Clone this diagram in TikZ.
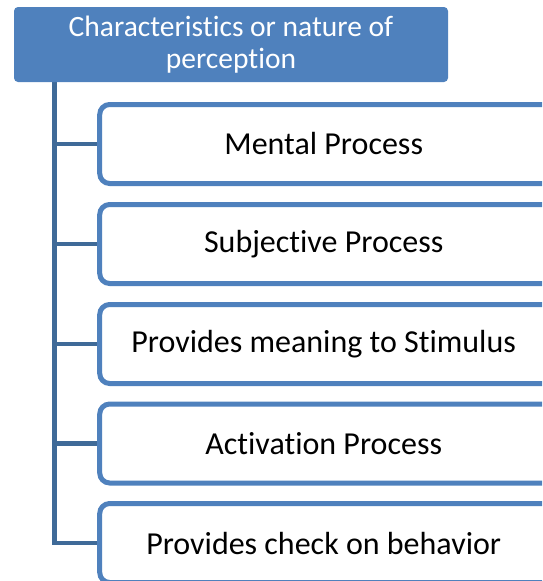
\documentclass[tikz,border=0pt]{standalone}
\usepackage{fontspec}
\setmainfont[Ligatures=NoCommon]{Carlito}
\definecolor{hdr}{HTML}{4F81BD}
\definecolor{bord}{HTML}{4F81BD}
\definecolor{conn}{HTML}{3F6A98}
\pgfdeclarelayer{bg}
\pgfsetlayers{bg,main}
\begin{document}
\begin{tikzpicture}[x=1pt,y=-1pt,
  hdrbox/.style={rectangle,rounded corners=4pt,fill=hdr,text=white,
    minimum width=434pt,minimum height=75pt,align=center,inner sep=0pt,
    font=\fontsize{29.5}{32}\selectfont},
  itembox/.style={rectangle,rounded corners=10pt,draw=bord,line width=5pt,fill=white,
    minimum width=460pt,minimum height=79pt,inner sep=0pt,
    font=\fontsize{32}{36}\selectfont},
  connline/.style={draw=conn,line width=4.5pt}]
\useasboundingbox (0,0) rectangle (542,581);
\clip (0,0) rectangle (542,581);
\node[hdrbox] (top) at (231,44.5) {Characteristics or nature of\\perception};
\coordinate (s0) at (54.5,82);
\node[itembox] (n1) at (329.7,144) {\kern-12pt Mental Process};
\node[itembox] (n2) at (329.7,244) {\kern-12pt Subjective Process};
\node[itembox] (n3) at (329.7,344) {\kern-12pt Provides meaning to Stimulus};
\node[itembox] (n4) at (329.7,443.5) {\kern-12pt Activation Process};
\node[itembox] (n5) at (329.7,543) {\kern-12pt Provides check on behavior};
\begin{pgfonlayer}{bg}
\draw[connline] (s0) |- (n5.west);
\foreach \i in {1,2,3,4}{\draw[connline] (s0 |- n\i.west) -- (n\i.west);}
\end{pgfonlayer}
\end{tikzpicture}
\end{document}
